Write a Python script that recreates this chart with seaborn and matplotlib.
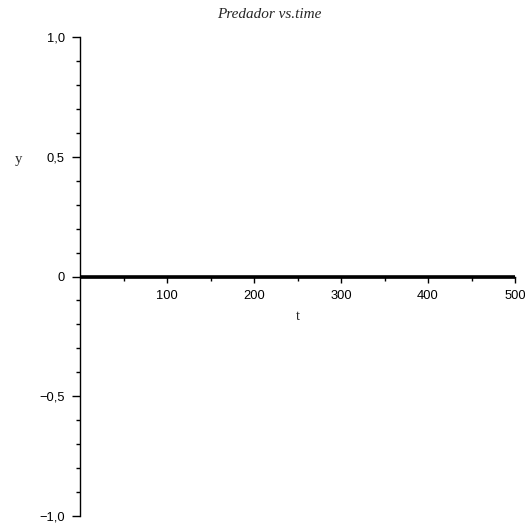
import matplotlib
matplotlib.use("Agg")
import matplotlib.pyplot as plt
import seaborn as sns
import pandas as pd

# Predator population over time (simulation output)
time_points = [0, 50, 100, 150, 200, 250, 300, 350, 400, 450, 500]
predator = [0, 0, 0, 0, 0, 0, 0, 0, 0, 0, 0]

x_major = [100, 200, 300, 400, 500]
x_major_labels = ["100", "200", "300", "400", "500"]
x_minor = [50, 150, 250, 350, 450]
y_major = [-1.0, -0.5, 0.0, 0.5, 1.0]
y_major_labels = ["\u22121,0", "\u22120,5", "0", "0,5", "1,0"]
y_minor = [-0.9, -0.8, -0.7, -0.6, -0.4, -0.3, -0.2, -0.1,
           0.1, 0.2, 0.3, 0.4, 0.6, 0.7, 0.8, 0.9]

sns.set_style("white")
plt.rcParams["font.family"] = ["Liberation Sans", "DejaVu Sans"]

df = pd.DataFrame({"t": time_points, "y": predator})

fig = plt.figure(figsize=(5.25, 5.27), dpi=100)
W, H = 525, 527
left, right, top, bottom = 80, 515, 37, 516
ax = fig.add_axes([left / W, (H - bottom) / H, (right - left) / W, (bottom - top) / H])

sns.lineplot(data=df, x="t", y="y", ax=ax, color="black", linewidth=2.6)

ax.set_xlim(0, 500)
ax.set_ylim(-1.0, 1.0)

# Axes cross at the origin
ax.spines["top"].set_visible(False)
ax.spines["right"].set_visible(False)
ax.spines["bottom"].set_position(("data", 0))
ax.spines["left"].set_position(("data", 0))
for s in ("bottom", "left"):
    ax.spines[s].set_color("black")
    ax.spines[s].set_linewidth(1.0)

ax.set_xticks(x_major)
ax.set_xticklabels(x_major_labels)
ax.set_xticks(x_minor, minor=True)
ax.set_yticks(y_major)
ax.set_yticklabels(y_major_labels)
ax.set_yticks(y_minor, minor=True)

ax.tick_params(axis="both", which="both", bottom=True, left=True,
               top=False, right=False, direction="out", color="black", width=1.0)
ax.tick_params(axis="both", which="major", length=6,
               labelsize=9.3, labelcolor="black")
ax.tick_params(axis="both", which="minor", length=3)
ax.tick_params(axis="x", which="major", length=4.5, pad=5.5)
ax.tick_params(axis="y", which="major", pad=5)

ax.set_xlabel("t", family="Liberation Serif", fontsize=10.5)
ax.xaxis.set_label_coords(0.5, (bottom - 310) / (bottom - top))
ax.set_ylabel("y", family="Liberation Serif", fontsize=10.5, rotation=0,
              ha="center", va="center")
ax.yaxis.set_label_coords((18 - left) / (right - left), (bottom - 159) / (bottom - top))

fig.text(269 / W, 1 - 15 / H, "Predador vs.time", family="Liberation Serif",
         style="italic", fontsize=11, ha="center", va="center")

fig.savefig("out.png", dpi=100, facecolor="white")
